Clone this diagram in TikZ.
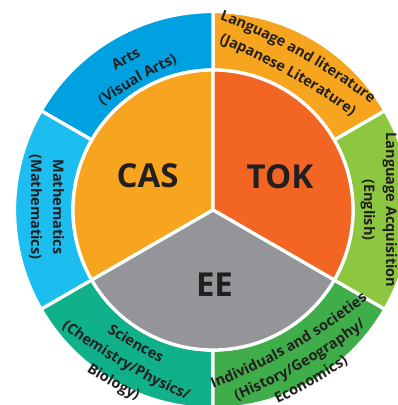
\documentclass[tikz,border=0pt]{standalone}
\usepackage{fontspec}
\setmainfont{Open Sans}
\usetikzlibrary{calc,decorations.text}

\definecolor{ink}{HTML}{231F20}
\definecolor{artsblue}{HTML}{00A1E0}
\definecolor{mathcyan}{HTML}{1CBDEF}
\definecolor{litorange}{HTML}{F7A51E}
\definecolor{acqgreen}{HTML}{8DC63F}
\definecolor{indgreen}{HTML}{3FAE4A}
\definecolor{scigreen}{HTML}{10B08B}
\definecolor{casorange}{HTML}{F7A51E}
\definecolor{tokorange}{HTML}{F26522}
\definecolor{eegray}{HTML}{939598}

\newcommand{\ringfont}{\fontsize{14.5}{22}\selectfont\bfseries\color{ink}}
\newcommand{\corefont}{\fontsize{33}{33}\selectfont\bfseries\color{ink}}

% one line of ring text, bent a little, read clockwise (top) or anticlockwise (bottom)
\newcommand{\topline}[3]{%
  \path[decorate, decoration={text along path, text align=center, raise=-4.5pt, text={|\ringfont|#3}}]
    ($(#1:{#2-600})+(#1+15:600)$) arc[start angle=#1+15, end angle=#1-15, radius=600];}
\newcommand{\botline}[3]{%
  \path[decorate, decoration={text along path, text align=center, raise=-4.5pt, text={|\ringfont|#3}}]
    ($(#1:{#2-600})+(#1-15:600)$) arc[start angle=#1-15, end angle=#1+15, radius=600];}

\tikzset{
  cut/.style={draw=white, line width=3.3pt},
  core/.style={font=\corefont},
  side/.style={font=\ringfont, align=center, rotate=-90},
}

\begin{document}
\begin{tikzpicture}[x=1pt, y=1pt]
  \useasboundingbox (-213,-195) rectangle (185,210);

  \path[fill=litorange, cut] (30:140) arc[start angle=30, end angle=90, radius=140] -- (90:198.5) arc[start angle=90, end angle=30, radius=198.5] -- cycle;
  \path[fill=artsblue, cut] (90:140) arc[start angle=90, end angle=150, radius=140] -- (150:198.5) arc[start angle=150, end angle=90, radius=198.5] -- cycle;
  \path[fill=mathcyan, cut] (150:140) arc[start angle=150, end angle=210, radius=140] -- (210:198.5) arc[start angle=210, end angle=150, radius=198.5] -- cycle;
  \path[fill=scigreen, cut] (210:140) arc[start angle=210, end angle=270, radius=140] -- (270:198.5) arc[start angle=270, end angle=210, radius=198.5] -- cycle;
  \path[fill=indgreen, cut] (270:140) arc[start angle=270, end angle=330, radius=140] -- (330:198.5) arc[start angle=330, end angle=270, radius=198.5] -- cycle;
  \path[fill=acqgreen, cut] (-30:140) arc[start angle=-30, end angle=30, radius=140] -- (30:198.5) arc[start angle=30, end angle=-30, radius=198.5] -- cycle;

  \path[fill=casorange, cut] (0,0) -- (90:140) arc[start angle=90, end angle=210, radius=140] -- cycle;
  \path[fill=tokorange, cut] (0,0) -- (-30:140) arc[start angle=-30, end angle=90, radius=140] -- cycle;
  \path[fill=eegray, cut] (0,0) -- (210:140) arc[start angle=210, end angle=330, radius=140] -- cycle;

  \node[core] (cas) at (-65.5,34.5) {CAS};
  \node[core] (tok) at (67,33.5) {TOK};
  \node[core] (ee) at (1.5,-75) {EE};

  \topline{120}{174}{Arts}
  \topline{120}{152}{(Visual Arts)}
  \topline{61}{180.5}{Language and literature}
  \topline{61}{158.5}{(Japanese Literature)}
  \botline{240}{155}{Sciences}
  \botline{240}{177}{(Chemistry/Physics/}
  \botline{240}{199}{Biology)}
  \botline{300}{157}{Individuals and societies}
  \botline{300}{177}{(History/Geography/}
  \botline{300}{197}{Economics)}

  \node[side] (maths) at (-166.5,3) {Mathematics\\(Mathematics)};
  \node[side] (acq) at (166,0) {Language Acquisition\\(English)};
\end{tikzpicture}
\end{document}
